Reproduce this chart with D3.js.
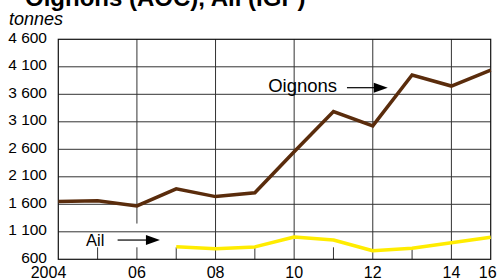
<!DOCTYPE html>
<html><head><meta charset="utf-8">
<script src="https://cdn.jsdelivr.net/npm/d3@7"></script>
<style>
html,body{margin:0;padding:0;background:#fff;}
svg{display:block;font-family:"Liberation Sans",Arial,sans-serif;}
</style></head>
<body>
<svg id="chart" width="503" height="279"></svg>
<script>
// ---- data ----
const years = ["2004","2005","2006","2007","2008","2009","2010","2011","2012","2013","2014","2016"];
const oignons = [1650,1665,1570,1880,1740,1810,2555,3285,3025,3950,3750,4040];
const ail = [null,null,null,830,790,825,1005,950,755,800,900,1000];
const xLabelYears = ["2004","2006","2008","2010","2012","2014","2016"];
const xLabels = ["2004","06","08","10","12","14","16"];
const yTicks = [600,1100,1600,2100,2600,3100,3600,4100,4600];
const yTickLabels = ["600","1 100","1 600","2 100","2 600","3 100","3 600","4 100","4 600"];
const title = "Oignons (AOC), Ail (IGP)";
const unit = "tonnes";

// ---- layout ----
const L = 58.3, R = 490.7, T = 39.3, B = 259.3;
const svg = d3.select("#chart");
const x = d3.scalePoint().domain(years).range([L, R]);
const y = d3.scaleLinear().domain([600, 4600]).range([B, T]);

// title & unit
svg.append("text").attr("x", 25).attr("y", 6)
  .attr("font-size", 24).attr("font-weight", "bold").attr("fill", "#000").text(title);
svg.append("text").attr("x", 9).attr("y", 24.5)
  .attr("font-size", 18).attr("font-style", "italic").attr("fill", "#000").text(unit);

const grid = svg.append("g");
// horizontal gridlines
grid.selectAll("line.h").data(yTicks.slice(1, -1)).join("line")
  .attr("x1", L).attr("x2", R).attr("y1", d => y(d)).attr("y2", d => y(d))
  .attr("stroke", "#333").attr("stroke-width", 1);
// vertical gridlines at even years (2006 stops above the "Ail" label)
const vYears = ["2006","2008","2010","2012","2014"];
grid.selectAll("line.v").data(vYears).join("line")
  .attr("x1", d => x(d)).attr("x2", d => x(d))
  .attr("y1", T).attr("y2", d => d === "2006" ? y(1250) : B)
  .attr("stroke", "#333").attr("stroke-width", 1);
// short ticks at bottom
const tickYears = ["2005","2006","2007","2009","2011","2013"];
grid.selectAll("line.t").data(tickYears).join("line")
  .attr("x1", d => x(d)).attr("x2", d => x(d))
  .attr("y1", B - 12).attr("y2", B)
  .attr("stroke", "#333").attr("stroke-width", 1);
// frame
svg.append("rect").attr("x", L).attr("y", T).attr("width", R - L).attr("height", B - T)
  .attr("fill", "none").attr("stroke", "#111").attr("stroke-width", 1.2);

// y labels
svg.append("g").selectAll("text").data(yTicks).join("text")
  .attr("x", 47).attr("y", d => y(d) + 3.5)
  .attr("text-anchor", "end").attr("font-size", 15.5).attr("fill", "#000")
  .text((d, i) => yTickLabels[i]);

// x labels
svg.append("g").selectAll("text").data(xLabelYears).join("text")
  .attr("x", (d, i) => i === 0 ? x(d) + 8 : (i === xLabelYears.length - 1 ? x(d) - 3 : x(d)))
  .attr("y", 277.5)
  .attr("text-anchor", (d, i) => i === 0 ? "end" : "middle")
  .attr("font-size", 16).attr("fill", "#000")
  .text((d, i) => xLabels[i]);

// lines
const line = d3.line().defined(d => d.v != null).x(d => x(d.year)).y(d => y(d.v));
svg.append("path").datum(years.map((yr, i) => ({year: yr, v: oignons[i]})))
  .attr("d", line).attr("fill", "none").attr("stroke", "#5a2c0c")
  .attr("stroke-width", 3.5).attr("stroke-linejoin", "miter");
svg.append("path").datum(years.map((yr, i) => ({year: yr, v: ail[i]})))
  .attr("d", line).attr("fill", "none").attr("stroke", "#ffec00")
  .attr("stroke-width", 3.5).attr("stroke-linejoin", "round");

// annotations
function arrow(x1, x2, yy) {
  svg.append("line").attr("x1", x1).attr("x2", x2 - 12).attr("y1", yy).attr("y2", yy)
    .attr("stroke", "#000").attr("stroke-width", 1.2);
  svg.append("path").attr("d", `M${x2},${yy} L${x2 - 14},${yy - 5} L${x2 - 14},${yy + 5} Z`)
    .attr("fill", "#000");
}
svg.append("text").attr("x", x("2010") - 26).attr("y", y(3650))
  .attr("font-size", 18.5).attr("fill", "#000").text("Oignons");
arrow(x("2011") + 13.5, x("2012") + 15, y(3720));
svg.append("text").attr("x", x("2005") - 11.6).attr("y", y(850))
  .attr("font-size", 16.5).attr("fill", "#000").text("Ail");
arrow(x("2005") + 20, x("2006") + 23, y(950));
</script>
</body></html>
